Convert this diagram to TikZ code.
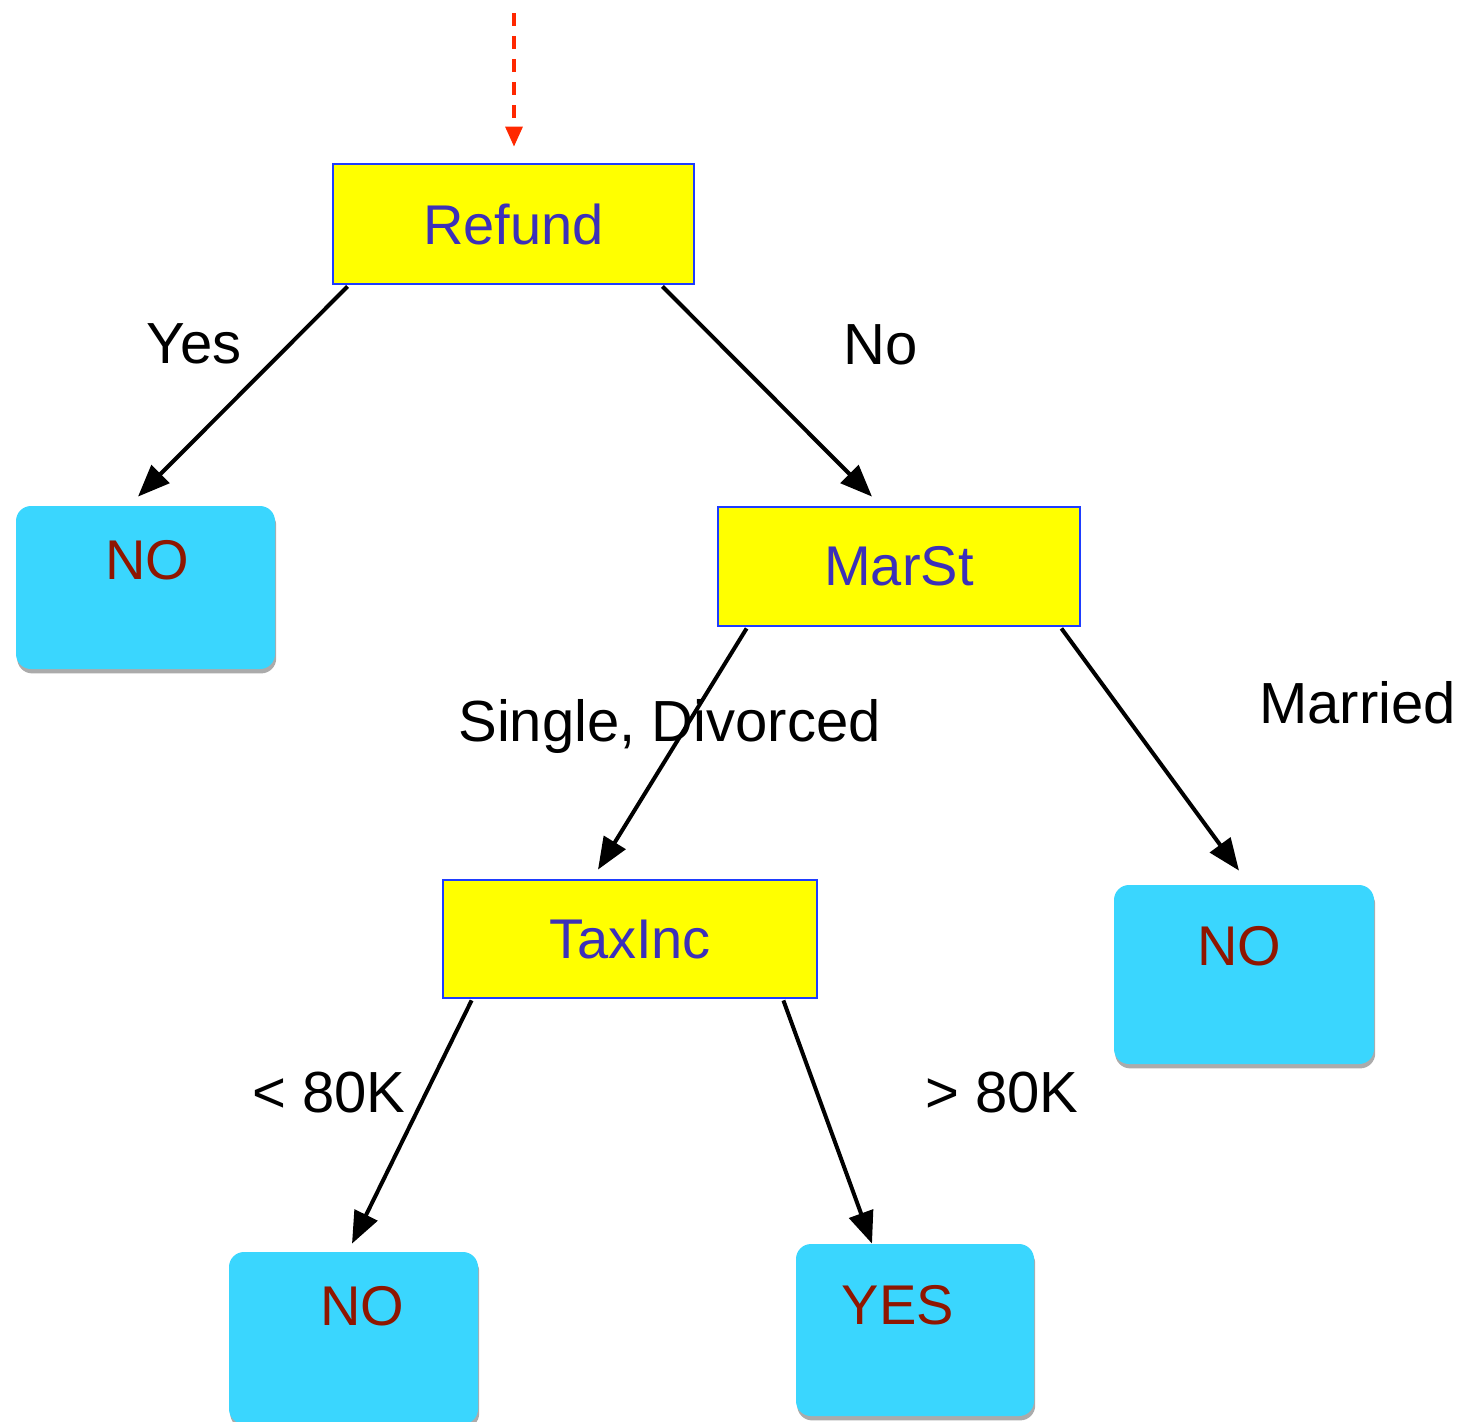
\documentclass[tikz,border=0pt]{standalone}
\usepackage{fontspec}
\setmainfont{Liberation Sans}
\usetikzlibrary{arrows.meta,calc,shadows}

\definecolor{boxyellow}{RGB}{255,255,0}
\definecolor{boxblue}{RGB}{30,60,255}
\definecolor{decisiontext}{RGB}{60,48,185}
\definecolor{leafcyan}{RGB}{58,214,254}
\definecolor{leaftext}{RGB}{143,22,0}
\definecolor{entryred}{RGB}{255,40,0}

\tikzset{
  decision/.style={rectangle, draw=boxblue, line width=1.4pt, fill=boxyellow,
    text=decisiontext, font=\fontsize{28}{33}\selectfont, inner sep=0pt},
  leaf/.style={rectangle, rounded corners=7.5pt, fill=leafcyan, draw=none, inner sep=0pt,
    drop shadow={shadow xshift=0.6pt, shadow yshift=-2.2pt, fill=black!55, opacity=0.6}},
  leaflabel/.style={text=leaftext, font=\fontsize{28}{33}\selectfont, inner sep=0pt},
  branch/.style={-{Triangle[length=16pt,width=12.5pt]}, line width=2pt, black},
  edgelabel/.style={font=\fontsize{29}{34}\selectfont, inner sep=0pt, anchor=base},
  entry/.style={-{Triangle[length=10pt,width=8.5pt]}, line width=1.6pt, entryred,
    dash pattern=on 6.5pt off 5pt}
}

\begin{document}
\begin{tikzpicture}[x=0.5pt, y=-0.5pt]
  \clip (0,0) rectangle (1462,1421);

  % decision nodes
  \node[decision, minimum width=180.5pt, minimum height=60pt] (refund) at (513.5,224) {Refund};
  \node[decision, minimum width=181pt, minimum height=59.5pt] (marst) at (899,566.5) {MarSt};
  \node[decision, minimum width=187pt, minimum height=59pt] (taxinc) at (630,939) {TaxInc};

  % leaf nodes
  \node[leaf, minimum width=129.5pt, minimum height=81.5pt,
        label={[leaflabel, xshift=0.75pt, yshift=13.5pt]center:NO}] (no1) at (145.5,587.5) {};
  \node[leaf, minimum width=130pt, minimum height=89.5pt,
        label={[leaflabel, xshift=-2.5pt, yshift=14pt]center:NO}] (no2) at (1244,974.5) {};
  \node[leaf, minimum width=124.5pt, minimum height=86pt,
        label={[leaflabel, xshift=4.25pt, yshift=15.75pt]center:NO}] (no3) at (353.5,1338) {};
  \node[leaf, minimum width=119pt, minimum height=86pt,
        label={[leaflabel, xshift=-8.5pt, yshift=12.5pt]center:YES}] (yes) at (915,1330) {};

  % entry arrow into the root
  \coordinate (entry) at (514,13);
  \draw[entry] (entry) -- ($(refund.north)+(0.5,-16)$);

  % branches
  \draw[branch] ($(refund.south west)+(16,1)$) -- ($(no1.north)+(-7.5,-9)$);
  \draw[branch] ($(refund.south east)+(-33,1)$) -- ($(marst.north)+(-27,-9)$);
  \draw[branch] ($(marst.south west)+(30,1)$) -- ($(taxinc.north)+(-32,-9)$);
  \draw[branch] ($(marst.south east)+(-20,1)$) -- ($(no2.north)+(-5,-14)$);
  \draw[branch] ($(taxinc.south west)+(30,1)$) -- ($(no3.north)+(-1.5,-8)$);
  \draw[branch] ($(taxinc.south east)+(-35,1)$) -- ($(yes.north)+(-43,0)$);

  % branch labels
  \node[edgelabel] (lyes) at (194,363) {Yes};
  \node[edgelabel] (lno) at (881,364) {No};
  \node[edgelabel] (lsingle) at (669.5,741) {Single, Divorced};
  \node[edgelabel] (lmarried) at (1357.5,723) {Married};
  \node[edgelabel] (llow) at (329,1112) {< 80K};
  \node[edgelabel] (lhigh) at (1002,1112) {> 80K};
\end{tikzpicture}
\end{document}
